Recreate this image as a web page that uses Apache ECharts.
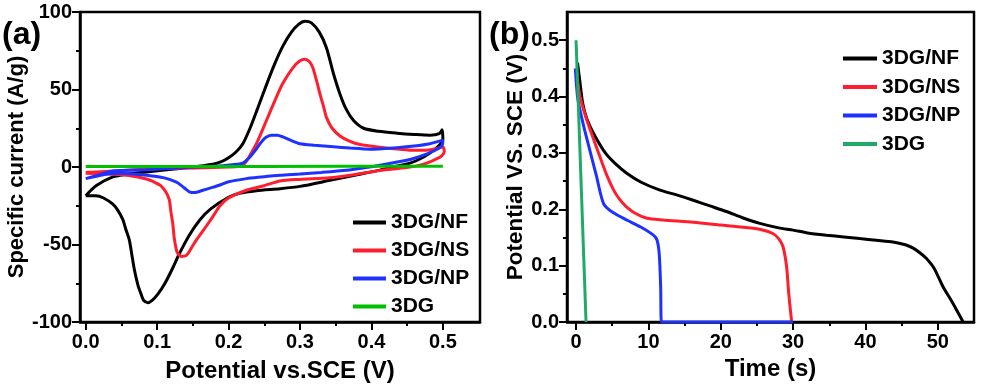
<!DOCTYPE html>
<html>
<head>
<meta charset="utf-8">
<script src="https://cdn.jsdelivr.net/npm/echarts@6/dist/echarts.min.js"></script>
<style>
  html, body { margin: 0; padding: 0; background: #fff; }
  #main { width: 981px; height: 388px; }
</style>
</head>
<body>
<div id="main"></div>
<script>
// names
var seriesNames = ['3DG/NF', '3DG/NS', '3DG/NP', '3DG'];

// (a) CV curves, [potential V, current A/g], loop order
var cvNF = [[0.000,-18.5],[0.015,-12],[0.038,-6.4],[0.06,-4.5],[0.085,-3.2],[0.11,-2],[0.131,-1],[0.155,0.3],[0.178,1.8],[0.19,3.5],[0.2,6],[0.21,9.5],[0.22,15],[0.23,25],[0.24,37],[0.253,53],[0.265,67],[0.276,78],[0.288,87],[0.298,92],[0.307,94],[0.316,93],[0.327,87],[0.337,77],[0.347,60],[0.356,47],[0.365,37],[0.375,30],[0.389,25],[0.41,23],[0.436,21.8],[0.46,21],[0.482,20.5],[0.495,21.5],[0.499,24],
  [0.5,18],[0.495,14],[0.482,9],[0.465,4.5],[0.454,2.5],[0.43,0],[0.412,-2],[0.38,-5],[0.342,-8.6],[0.3,-12.5],[0.272,-14],[0.239,-15.3],[0.215,-17],[0.2,-19.5],[0.175,-27],[0.16,-34],[0.145,-44],[0.131,-56],[0.122,-65],[0.111,-75],[0.101,-82],[0.093,-86],[0.087,-87.5],[0.081,-86],[0.0775,-82],[0.073,-76],[0.068,-66],[0.064,-55],[0.061,-47],[0.056,-40],[0.052,-34],[0.045,-28],[0.038,-24],[0.025,-20],[0.014,-18.5],[0.0,-18.5]];
var cvNS = [[0,-3.6],[0.04,-2.5],[0.1,-1.2],[0.155,-0.6],[0.2,0],[0.215,0.5],[0.222,2],[0.228,6],[0.24,16],[0.253,30],[0.265,43],[0.276,54],[0.29,64],[0.3,68.5],[0.307,69.5],[0.313,68],[0.318,64],[0.323,56],[0.328,47],[0.333,39],[0.337,32],[0.345,25],[0.356,20],[0.37,16.5],[0.384,14.5],[0.412,12.8],[0.44,11.5],[0.459,10.8],[0.48,11],[0.492,12],[0.5,13],
  [0.502,10],[0.498,7],[0.49,5],[0.482,3.3],[0.468,1.2],[0.454,0],[0.43,-1.3],[0.412,-2.2],[0.37,-5.3],[0.342,-7],[0.3,-8],[0.272,-9],[0.25,-12],[0.225,-15],[0.2,-20],[0.188,-25],[0.178,-32],[0.166,-40],[0.155,-47],[0.147,-53],[0.141,-57],[0.134,-57.7],[0.128,-55],[0.124,-46],[0.122,-37],[0.119,-28],[0.117,-21],[0.112,-16],[0.105,-12],[0.095,-9.5],[0.085,-7.7],[0.06,-5.5],[0.038,-4.6],[0.0,-4]];
var cvNP = [[0,-7.5],[0.02,-5],[0.038,-2.5],[0.085,-1.7],[0.13,-0.5],[0.178,0.5],[0.205,1.5],[0.22,2.5],[0.23,6.5],[0.238,11],[0.244,15],[0.252,19],[0.26,20.5],[0.268,20.5],[0.276,19.4],[0.288,17],[0.3,15],[0.32,14],[0.347,13],[0.37,12.2],[0.398,11.5],[0.436,12.5],[0.46,13.5],[0.482,15],[0.5,17.3],
  [0.499,14],[0.49,11],[0.475,8],[0.459,5.5],[0.44,3.5],[0.412,1.1],[0.39,-0.5],[0.365,-2.1],[0.33,-3.5],[0.3,-4.5],[0.272,-5.3],[0.245,-6.5],[0.225,-7.5],[0.2,-9.5],[0.187,-11.8],[0.175,-13.5],[0.164,-15],[0.152,-16.5],[0.145,-16],[0.141,-14.6],[0.134,-12],[0.127,-9.7],[0.11,-7],[0.085,-5.3],[0.05,-4],[0.03,-4.5],[0.015,-6],[0,-7.5]];
var cvG = [[0,0.3],[0.25,0.4],[0.5,0.5]];

// (b) discharge curves, [time s, potential V]
var gcdNF = [[0.2,0.46],[0.5,0.43],[0.92,0.388],[1.5,0.36],[2.4,0.335],[4.1,0.299],[5.5,0.28],[7.0,0.264],[9,0.248],[11.6,0.234],[14,0.225],[16.2,0.216],[18.5,0.206],[20.8,0.196],[23,0.185],[25.4,0.175],[28,0.167],[30,0.163],[32,0.158],[34.6,0.154],[37,0.151],[39.2,0.148],[41.5,0.145],[43.8,0.142],[45.5,0.137],[46.6,0.131],[47.6,0.122],[48.4,0.113],[49.5,0.095],[50.7,0.063],[52,0.035],[53.5,0.0]];
var gcdNS = [[0.2,0.43],[0.55,0.40],[1.5,0.358],[2.4,0.325],[3.3,0.293],[4.2,0.262],[5.2,0.234],[6,0.218],[7.0,0.204],[8.3,0.192],[9.8,0.184],[12,0.181],[16.2,0.177],[20,0.172],[23.1,0.168],[25.5,0.164],[27.2,0.157],[28,0.148],[28.6,0.134],[29.1,0.098],[29.4,0.05],[29.8,0.0]];
var gcdNP = [[-0.1,0.45],[0.2,0.4],[0.55,0.376],[1.2,0.34],[1.9,0.305],[2.8,0.26],[3.8,0.21],[5,0.195],[7.0,0.181],[9,0.168],[10.7,0.154],[11.2,0.145],[11.5,0.12],[11.7,0.06],[11.8,0.0],[30,0.0]];
var gcdG = [[0,0.5],[1.38,0]];

// ticks
var aXTicks = [0, 0.1, 0.2, 0.3, 0.4, 0.5];
var aXMinor = [0.05, 0.15, 0.25, 0.35, 0.45];
var aYTicks = [-100, -50, 0, 50, 100];
var aYMinor = [-75, -25, 25, 75];
var bXTicks = [0, 10, 20, 30, 40, 50];
var bXMinor = [5, 15, 25, 35, 45];
var bYTicks = [0, 0.1, 0.2, 0.3, 0.4, 0.5];
var bYMinor = [0.05, 0.15, 0.25, 0.35, 0.45];

var colorsA = ['#000000', '#ff1e2d', '#1e32ff', '#00c000'];
var colorsB = ['#000000', '#ff1e2d', '#1e32ff', '#20aa6a'];

var FONT = '"Liberation Sans", Arial, sans-serif';

function majorAxis(grid, pos, min, max, ticks, fmt, name, gap, nameSize) {
    return {
        type: 'value', gridIndex: grid, position: pos, min: min, max: max,
        name: name, nameLocation: 'middle', nameGap: gap,
        nameTextStyle: { color: '#000', fontFamily: FONT, fontWeight: 'bold', fontSize: nameSize },
        axisLine: { show: true, onZero: false, lineStyle: { color: '#000', width: 2.5 } },
        axisTick: { show: true, inside: false, length: 8, customValues: ticks, lineStyle: { color: '#000', width: 2 } },
        axisLabel: { show: true, customValues: ticks, formatter: fmt, margin: pos === 'bottom' ? 10 : 8,
            color: '#000', fontFamily: FONT, fontWeight: 'bold', fontSize: 20 },
        splitLine: { show: false }
    };
}
function minorAxis(grid, pos, min, max, ticks) {
    return {
        type: 'value', gridIndex: grid, position: pos, min: min, max: max,
        axisLine: { show: false, onZero: false },
        axisTick: { show: true, inside: false, length: 4, customValues: ticks, lineStyle: { color: '#000', width: 2 } },
        axisLabel: { show: false },
        splitLine: { show: false }
    };
}
function lineSeries(name, data, color, xi, yi) {
    return {
        name: name, type: 'line', data: data, xAxisIndex: xi, yAxisIndex: yi,
        showSymbol: false, symbol: 'none', smooth: 0.25, animation: false,
        lineStyle: { color: color, width: 3 }, itemStyle: { color: color }
    };
}
function legendData(colors) {
    var d = [];
    for (var i = 0; i < seriesNames.length; i++) {
        d.push({ name: seriesNames[i], icon: 'rect', itemStyle: { color: colors[i] } });
    }
    return d;
}

var chart = echarts.init(document.getElementById('main'), null, { renderer: 'canvas' });

var option = {
    animation: false,
    backgroundColor: '#fff',
    grid: [
        { left: 80, top: 12, width: 400, height: 310, show: true, borderColor: '#000', borderWidth: 2.5, containLabel: false, outerBoundsMode: 'none' },
        { left: 567, top: 12, width: 407, height: 310, show: true, borderColor: '#000', borderWidth: 2.5, containLabel: false, outerBoundsMode: 'none' }
    ],
    xAxis: [
        majorAxis(0, 'bottom', -0.008, 0.552, aXTicks, function (v) { return v.toFixed(1); }, 'Potential vs.SCE (V)', 37, 24),
        minorAxis(0, 'bottom', -0.008, 0.552, aXMinor),
        majorAxis(1, 'bottom', -1.25, 55, bXTicks, function (v) { return String(Math.round(v)); }, 'Time (s)', 29, 24),
        minorAxis(1, 'bottom', -1.25, 55, bXMinor)
    ],
    yAxis: [
        majorAxis(0, 'left', -100, 100, aYTicks, function (v) { return String(Math.round(v)); }, 'Specific current (A/g)', 51, 22),
        minorAxis(0, 'left', -100, 100, aYMinor),
        majorAxis(1, 'left', 0, 0.55, bYTicks, function (v) { return v.toFixed(1); }, 'Potential VS. SCE (V)', 39, 22.5),
        minorAxis(1, 'left', 0, 0.55, bYMinor)
    ],
    legend: [
        {
            left: 348, top: 207, orient: 'vertical', itemWidth: 33, itemHeight: 4, itemGap: 7,
            data: legendData(colorsA), selectedMode: false,
            textStyle: { color: '#000', fontFamily: FONT, fontWeight: 'bold', fontSize: 21, lineHeight: 20 }
        },
        {
            left: 838, top: 43, orient: 'vertical', itemWidth: 34, itemHeight: 4, itemGap: 7.5,
            data: legendData(colorsB), selectedMode: false,
            textStyle: { color: '#000', fontFamily: FONT, fontWeight: 'bold', fontSize: 21, lineHeight: 20 }
        }
    ],
    graphic: [
        { type: 'text', left: 2, top: 19, style: { text: '(a)', fill: '#000', font: 'bold 32px ' + FONT } },
        { type: 'text', left: 489, top: 19, style: { text: '(b)', fill: '#000', font: 'bold 32px ' + FONT } }
    ],
    series: [
        lineSeries('3DG/NF', cvNF, colorsA[0], 0, 0),
        lineSeries('3DG/NS', cvNS, colorsA[1], 0, 0),
        lineSeries('3DG/NP', cvNP, colorsA[2], 0, 0),
        lineSeries('3DG', cvG, colorsA[3], 0, 0),
        lineSeries('3DG/NF', gcdNF, colorsB[0], 2, 2),
        lineSeries('3DG/NS', gcdNS, colorsB[1], 2, 2),
        lineSeries('3DG/NP', gcdNP, colorsB[2], 2, 2),
        lineSeries('3DG', gcdG, colorsB[3], 2, 2)
    ]
};

chart.setOption(option);
</script>
</body>
</html>
